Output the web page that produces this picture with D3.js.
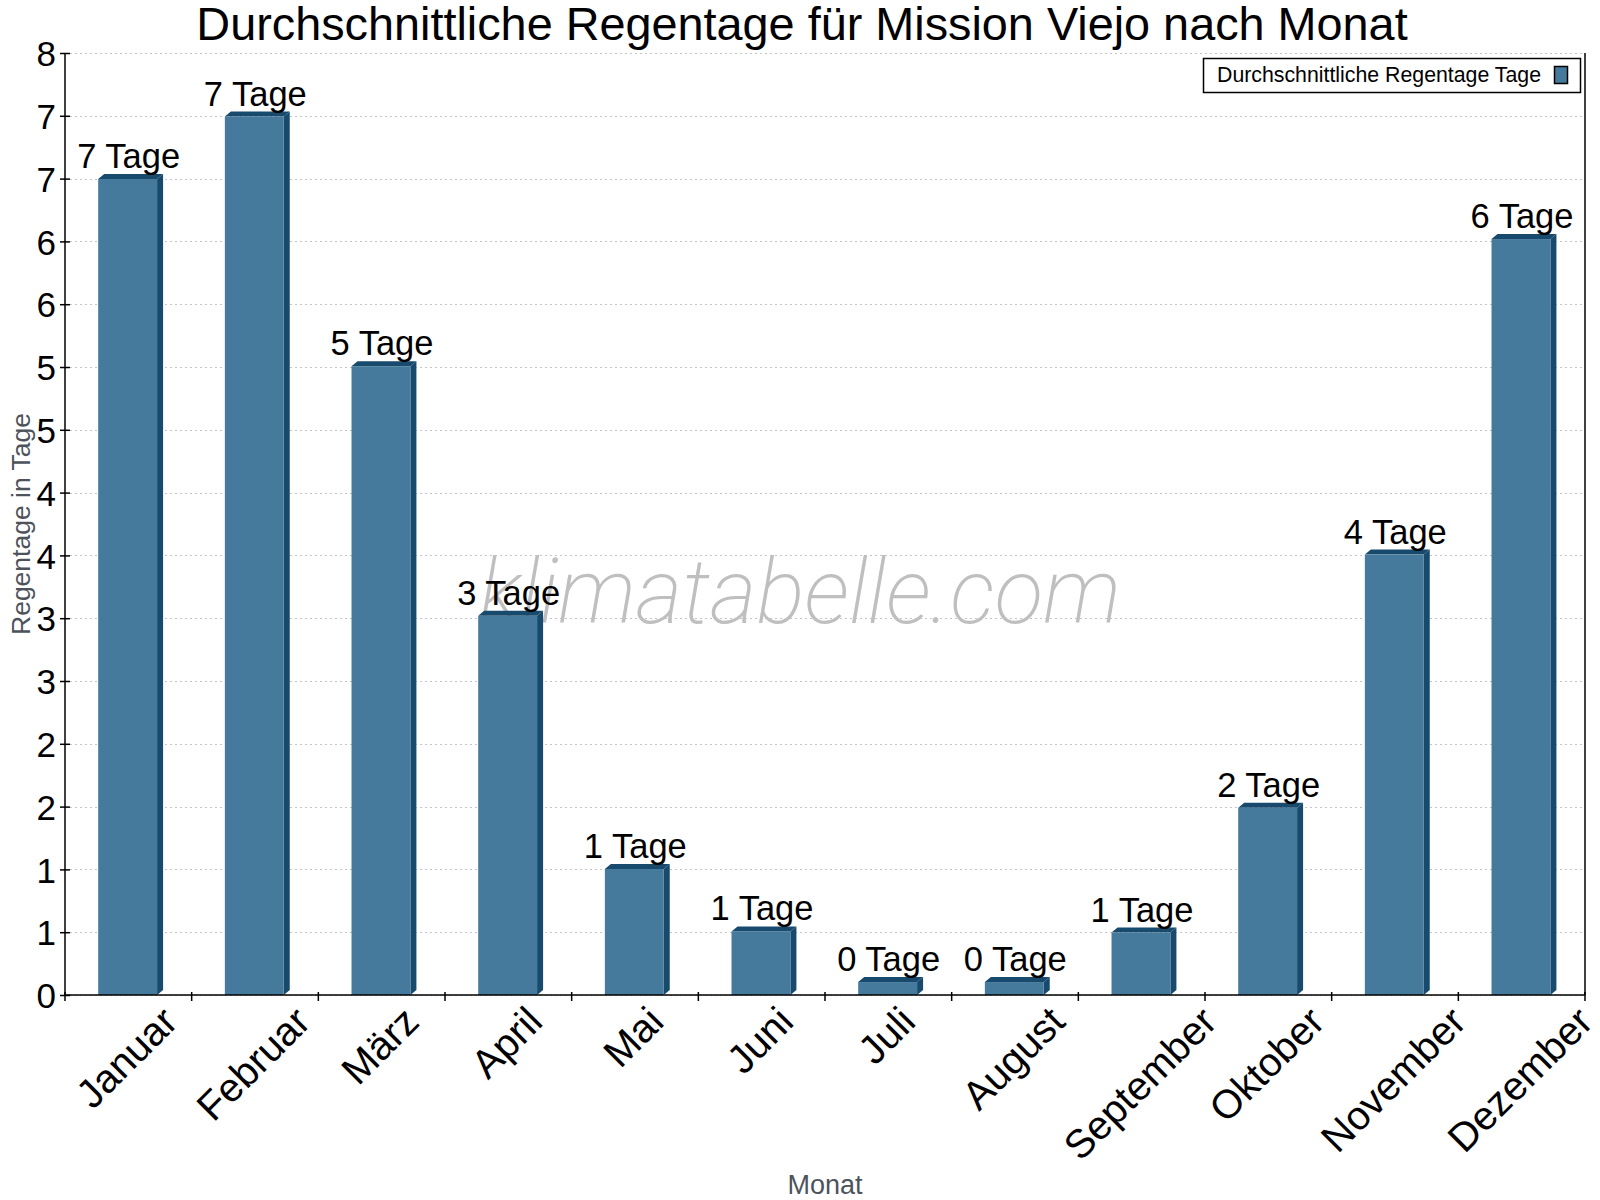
<!DOCTYPE html>
<html>
<head>
<meta charset="utf-8">
<script src="https://cdn.jsdelivr.net/npm/d3@7"></script>
<style>
  html, body { margin: 0; padding: 0; background: #ffffff; }
  svg { display: block; font-family: "Liberation Sans", Arial, sans-serif; }
</style>
</head>
<body>
<svg id="chart" width="1600" height="1200"></svg>
<script>
const months = ["Januar", "Februar", "März", "April", "Mai", "Juni", "Juli", "August", "September", "Oktober", "November", "Dezember"];
const rainDays = [6.93, 7.46, 5.34, 3.22, 1.07, 0.54, 0.11, 0.11, 0.53, 1.59, 3.74, 6.42];
const yTickValues = d3.range(16).map(i => i * 8 / 15);
const titleText = "Durchschnittliche Regentage für Mission Viejo nach Monat";
const yTitle = "Regentage in Tage";
const xTitle = "Monat";
const legendLabel = "Durchschnittliche Regentage Tage";
const unit = "Tage";

const frontColor = "#467a9c";
const darkColor = "#184a6d";

const svg = d3.select("#chart");
const m = { left: 65, right: 1585, top: 53, bottom: 995 };

const x = d3.scaleBand().domain(months).range([m.left, m.right]).padding(0);
const y = d3.scaleLinear().domain([0, 8]).range([m.bottom, m.top]);
const bw = x.bandwidth();

// title
svg.append("text")
  .attr("x", 802).attr("y", 40)
  .attr("text-anchor", "middle")
  .attr("font-size", 46.8)
  .attr("fill", "#000")
  .text(titleText);

// gridlines
svg.append("g").selectAll("line")
  .data(yTickValues)
  .join("line")
  .attr("x1", m.left + 5).attr("x2", m.right)
  .attr("y1", d => Math.round(y(d)) + 0.5).attr("y2", d => Math.round(y(d)) + 0.5)
  .attr("stroke", "#c4c4c4")
  .attr("stroke-width", 1)
  .attr("stroke-dasharray", "2,3");

// watermark
svg.append("text")
  .attr("x", 800).attr("y", 623)
  .attr("text-anchor", "middle")
  .attr("font-family", "Roboto, 'Open Sans', sans-serif")
  .attr("font-weight", 200)
  .attr("font-style", "italic")
  .attr("font-size", 90)
  .attr("fill", "#bfbfbf")
  .text("klimatabelle.com");

// bars
const dx = 6, dy = 5;
const bars = svg.append("g").selectAll("g")
  .data(months.map((mo, i) => ({ mo, v: rainDays[i] })))
  .join("g");

bars.each(function(d) {
  const g = d3.select(this);
  const x0 = x(d.mo) + bw * 0.262;
  const w = bw * 0.465;
  const yt = y(d.v);
  const y0 = y(0);
  g.append("path")
    .attr("d", `M${x0 + w},${yt} L${x0 + w + dx},${yt - dy} L${x0 + w + dx},${y0 - dy} L${x0 + w},${y0} Z`)
    .attr("fill", darkColor);
  g.append("path")
    .attr("d", `M${x0},${yt} L${x0 + dx},${yt - dy} L${x0 + w + dx},${yt - dy} L${x0 + w},${yt} Z`)
    .attr("fill", darkColor);
  g.append("rect")
    .attr("x", x0).attr("y", yt)
    .attr("width", w).attr("height", y0 - yt)
    .attr("fill", frontColor);
  g.append("text")
    .attr("x", x0 + w / 2 + 1)
    .attr("y", yt - dy - 6)
    .attr("text-anchor", "middle")
    .attr("font-size", 34.5)
    .attr("fill", "#000")
    .text(Math.round(d.v) + " " + unit);
});

// y axis
const yAxis = d3.axisLeft(y)
  .tickValues(yTickValues)
  .tickFormat(d => Math.round(d))
  .tickSize(0)
  .tickPadding(0);
const yg = svg.append("g").attr("transform", `translate(${m.left},0)`).call(yAxis);
yg.select(".domain").remove();
yg.selectAll(".tick text")
  .attr("x", -9)
  .attr("dy", "0.36em")
  .attr("font-size", 35)
  .attr("font-family", "'Liberation Sans', Arial, sans-serif")
  .attr("fill", "#000");
yg.selectAll(".tick").append("line")
  .attr("x1", -5).attr("x2", 5)
  .attr("stroke", "#000").attr("stroke-width", 1.5);
svg.append("line")
  .attr("x1", m.left).attr("x2", m.left)
  .attr("y1", m.top).attr("y2", m.bottom)
  .attr("stroke", "#000").attr("stroke-width", 1.5);

// right border
svg.append("line")
  .attr("x1", m.right).attr("x2", m.right)
  .attr("y1", m.top).attr("y2", m.bottom)
  .attr("stroke", "#000").attr("stroke-width", 1.5);

// x axis
svg.append("line")
  .attr("x1", m.left).attr("x2", m.right)
  .attr("y1", m.bottom).attr("y2", m.bottom)
  .attr("stroke", "#000").attr("stroke-width", 1.5);
const boundaries = months.map(mo => x(mo)).concat([m.right]);
svg.append("g").selectAll("line")
  .data(boundaries)
  .join("line")
  .attr("x1", d => d).attr("x2", d => d)
  .attr("y1", m.bottom - 3).attr("y2", m.bottom + 6)
  .attr("stroke", "#000").attr("stroke-width", 1.5);

// x labels (rotated)
const xl = svg.append("g").selectAll("text")
  .data(months)
  .join("text")
  .attr("text-anchor", "middle")
  .attr("font-size", 40)
  .attr("fill", "#000")
  .text(d => d);
xl.each(function(d) {
  const L = this.getComputedTextLength();
  const cx = x(d) + bw / 2 + 8;
  const cy = 1024 + 0.7071 * L / 2;
  d3.select(this).attr("transform", `translate(${cx},${cy}) rotate(-45)`);
});

// axis titles
svg.append("text")
  .attr("transform", `translate(30,${(m.top + m.bottom) / 2}) rotate(-90)`)
  .attr("text-anchor", "middle")
  .attr("font-size", 26.5)
  .attr("fill", "#4d535b")
  .text(yTitle);
svg.append("text")
  .attr("x", (m.left + m.right) / 2).attr("y", 1194)
  .attr("text-anchor", "middle")
  .attr("font-size", 27)
  .attr("fill", "#4d535b")
  .text(xTitle);

// legend
const lg = svg.append("g");
lg.append("rect")
  .attr("x", 1203.5).attr("y", 58.5)
  .attr("width", 377).attr("height", 34)
  .attr("fill", "#fff").attr("stroke", "#000").attr("stroke-width", 1.5);
lg.append("text")
  .attr("x", 1217).attr("y", 82)
  .attr("font-size", 21.3)
  .attr("fill", "#000")
  .text(legendLabel);
lg.append("rect")
  .attr("x", 1554.5).attr("y", 66.5)
  .attr("width", 13).attr("height", 17)
  .attr("fill", frontColor).attr("stroke", "#000").attr("stroke-width", 1.5);
</script>
</body>
</html>
